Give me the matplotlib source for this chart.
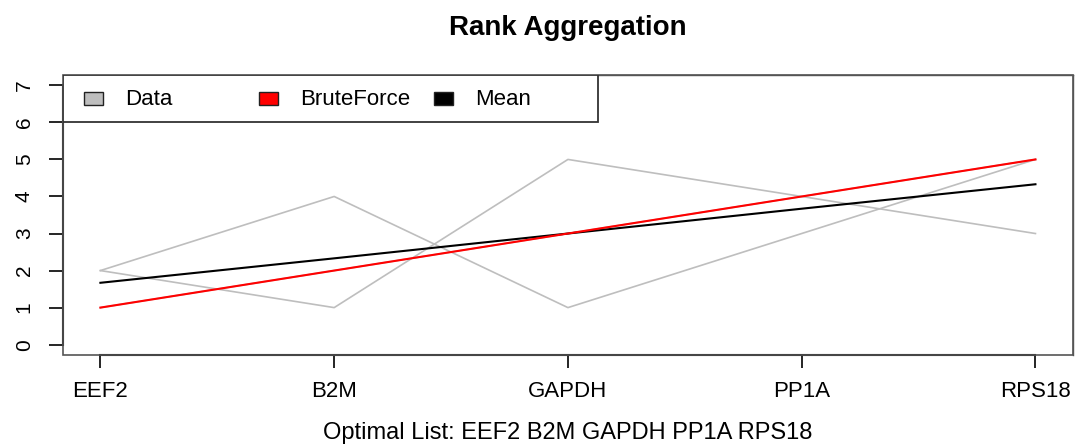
import matplotlib
matplotlib.use("Agg")
import matplotlib.pyplot as plt
from matplotlib.patches import Rectangle

plt.rcParams['font.family'] = ['Liberation Sans', 'DejaVu Sans']

# gene order (optimal list) and the input rank lists
genes = ["EEF2", "B2M", "GAPDH", "PP1A", "RPS18"]
data_1 = [2, 4, 1, 3, 5]
data_2 = [2, 1, 5, 4, 3]
data_3 = [1, 2, 3, 4, 5]
brute_force = [1, 2, 3, 4, 5]
mean_rank = [1.67, 2.33, 3.0, 3.67, 4.33]
y_ticks = [0, 1, 2, 3, 4, 5, 6, 7]

legend_labels = ["Data", "BruteForce", "Mean"]
legend_colors = ["#BEBEBE", "#FF0000", "#000000"]

fig = plt.figure(figsize=(10.75, 4.45), dpi=100)
ax = fig.add_axes([0.0586, 0.2022, 0.9394, 0.6293])

x = list(range(len(genes)))
for d in (data_1, data_2, data_3):
    ax.plot(x, d, color="#BEBEBE", lw=1.2)
ax.plot(x, mean_rank, color="black", lw=1.5)
ax.plot(x, brute_force, color="red", lw=1.5)

ax.set_xlim(-0.16, len(genes) - 1 + 0.16)
ax.set_ylim(-0.28, 7.28)
ax.set_xticks(x)
ax.set_xticklabels(genes, fontsize=16)
ax.set_yticks(y_ticks)
ax.set_yticklabels([str(v) for v in y_ticks], fontsize=15, rotation=90, va="center")
ax.tick_params(axis="x", length=9, width=1.2, pad=10, direction="out")
ax.tick_params(axis="y", length=10, width=1.2, pad=11, direction="out")

# R-style box + axis lines running between first and last tick
for s in ax.spines.values():
    s.set_color("#555555")
    s.set_linewidth(1.0)
ax.spines["bottom"].set_bounds(0, len(genes) - 1)
ax.spines["left"].set_bounds(y_ticks[0], y_ticks[-1])
ax.spines["bottom"].set_color("black")
ax.spines["left"].set_color("black")
ax.spines["bottom"].set_linewidth(1.5)
ax.spines["left"].set_linewidth(1.5)
ax.add_patch(Rectangle((0, 0), 1, 1, transform=ax.transAxes, fill=False,
                       edgecolor="#555555", lw=1.2, clip_on=False, zorder=5))

# legend drawn by hand, R horiz style (equal column widths)
ax.add_patch(Rectangle((0, 0.833), 0.530, 0.167, transform=ax.transAxes,
                       facecolor="white", edgecolor="#333333", lw=1.3, zorder=6))
col_step = 0.1733
for i, (lab, col) in enumerate(zip(legend_labels, legend_colors)):
    x0 = 0.0208 + i * col_step
    ax.add_patch(Rectangle((x0, 0.893), 0.0188, 0.046, transform=ax.transAxes,
                           facecolor=col, edgecolor="#222222", lw=1.0, zorder=7))
    ax.text(x0 + 0.0406, 0.914, lab, transform=ax.transAxes, fontsize=16,
            va="center", ha="left", zorder=7)

fig.text(0.5284, 1 - 35 / 445, "Rank Aggregation", fontsize=20,
         fontweight="bold", ha="center", va="baseline")
fig.text(0.5284, 1 - 439 / 445, "Optimal List: " + " ".join(genes),
         fontsize=17, ha="center", va="baseline")

fig.savefig("out.png", dpi=100)
